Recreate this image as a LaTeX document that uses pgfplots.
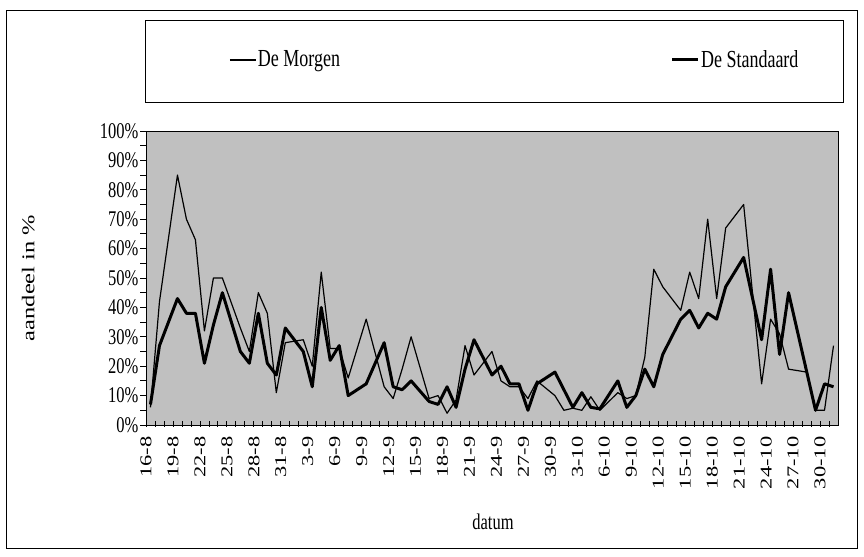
\documentclass[border=0pt]{standalone}
\usepackage{fontspec}
\setmainfont{Liberation Serif}
\usepackage{pgfplots}
\pgfplotsset{compat=1.18}
\definecolor{plotbg}{RGB}{192,192,192}
\newcommand\ff{\fontsize{16.5bp}{20bp}\selectfont}
\newcommand\fl{\fontsize{18bp}{21bp}\selectfont}
\newcommand\sx[1]{\scalebox{1.36}[1]{#1}}
\newcommand\sy[1]{\scalebox{1}[1.36]{#1}}
\begin{document}
\ff
\begin{tikzpicture}
\useasboundingbox (0bp,0bp) rectangle (864bp,557bp);
\draw[black, line width=0.8bp] (6bp,9bp) rectangle (857bp,547bp);
\draw[black, line width=0.8bp, fill=white] (145bp,455bp) rectangle (843bp,537bp);
\begin{axis}[
  at={(146bp,132bp)}, anchor=south west,
  scale only axis, width=692bp, height=294bp,
  xmin=-0.5, xmax=76.5, ymin=0, ymax=100,
  axis background/.style={fill=plotbg},
  axis line style={black, line width=0.8bp},
  xtick={-0.5,2.5,...,74.5},
  xticklabels={\sx{16-8},\sx{19-8},\sx{22-8},\sx{25-8},\sx{28-8},\sx{31-8},\sx{3-9},\sx{6-9},\sx{9-9},\sx{12-9},\sx{15-9},\sx{18-9},\sx{21-9},\sx{24-9},\sx{27-9},\sx{30-9},\sx{3-10},\sx{6-10},\sx{9-10},\sx{12-10},\sx{15-10},\sx{18-10},\sx{21-10},\sx{24-10},\sx{27-10},\sx{30-10}},
  minor xtick={0.5,1.5,...,75.5},
  ytick={0,10,...,100},
  yticklabels={\sy{0\%},\sy{10\%},\sy{20\%},\sy{30\%},\sy{40\%},\sy{50\%},\sy{60\%},\sy{70\%},\sy{80\%},\sy{90\%},\sy{100\%}},
  minor ytick={5,15,...,95},
  tick align=outside,
  major tick length=6bp, minor tick length=6bp,
  tick style={black, line width=0.8bp},
  xtick pos=bottom, ytick pos=left,
  every x tick/.append style={yshift=4bp},
  xticklabel style={rotate=90, anchor=east, font=\ff},
  yticklabel style={font=\ff, inner xsep=1.5bp},
  xlabel={\sy{datum}}, ylabel={\sx{aandeel in \%}},
  xlabel style={at={(axis description cs:0.5014,-0.33)}, anchor=center, font=\ff},
  ylabel style={at={(axis description cs:-0.170,0.5)}, anchor=center, font=\fl},
  legend columns=2,
  legend image code/.code={\draw[#1] (0bp,0bp) -- (26bp,0bp);},
  legend style={draw=none, fill=none, inner sep=0pt, font=\fl,
    at={(axis description cs:0.1199,1.2415)}, anchor=west,
    nodes={inner sep=1.5bp},
    /tikz/every even column/.append style={column sep=329bp}},
]
\addplot[black, line width=1.2bp, line join=round] coordinates {
(0,6)(1,42)(3,85)(4,70)(5,63)(6,32)(7,50)(8,50)(10,33)(11,25)(12,45)(13,38)(14,11)(15,28)(17,29)(18,20)(19,52)(20,26)(21,26)(22,16)(24,36)(26,13)(27,9)(28,19)(29,30)(31,9)(32,10)(33,4)(34,8.5)(35,27)(36,17)(38,25)(39,15)(40,13)(41,13)(42,9)(43,15)(45,10)(46,5)(47,5.7)(48,5)(49,9.6)(50,5)(52,11)(53,9)(54,10)(55,23)(56,53)(57,47)(59,39)(60,52)(61,43)(62,70)(63,43)(64,67)(66,75)(68,14)(69,36)(70,31)(71,19)(73,18)(74,5)(75,5)(76,27)
};
\addlegendentry{\sy{De Morgen}}
\addplot[black, line width=3bp, line join=round] coordinates {
(0,7)(1,27)(3,43)(4,38)(5,38)(6,21)(7,34)(8,45)(10,25)(11,21)(12,38)(13,21)(14,17)(15,33)(17,25)(18,13)(19,40)(20,22)(21,27)(22,10)(24,14)(26,28)(27,13)(28,12)(29,15)(31,8)(32,7)(33,13)(34,6)(35,19)(36,29)(38,17)(39,20)(40,14)(41,14)(42,5)(43,14)(45,18)(46,12)(47,6)(48,11)(49,6)(50,5.5)(52,15)(53,6)(54,10)(55,19)(56,13)(57,24)(59,36)(60,39)(61,33)(62,38)(63,36)(64,47)(66,57)(68,29)(69,53)(70,24)(71,45)(74,5)(75,14)(76,13)
};
\addlegendentry{\sy{De Standaard}}
\end{axis}
\end{tikzpicture}
\end{document}
